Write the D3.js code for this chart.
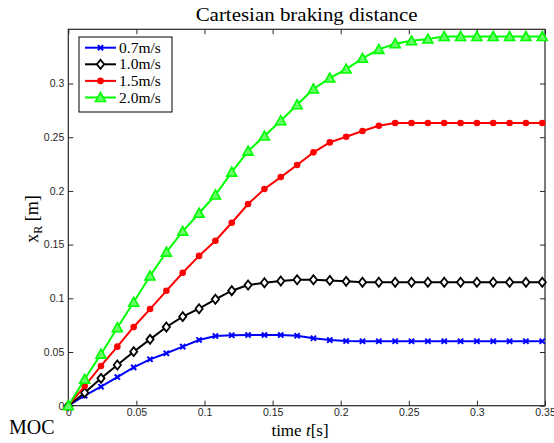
<!DOCTYPE html>
<html><head><meta charset="utf-8">
<script src="https://cdn.jsdelivr.net/npm/d3@7"></script>
<style>body{margin:0;background:#fff}svg{display:block}</style>
</head><body><div id="c"></div>
<script>
const times = d3.range(30).map(i => +(i * 0.012).toFixed(3));
const seriesNames = ["0.7m/s", "1.0m/s", "1.5m/s", "2.0m/s"];
const v07 = [0, 0.0093, 0.0177, 0.0267, 0.0357, 0.0432, 0.0488, 0.055, 0.0612, 0.0649, 0.0656, 0.0658, 0.0658, 0.0658, 0.0651, 0.0628, 0.0611, 0.0602, 0.060, 0.060, 0.060, 0.060, 0.060, 0.060, 0.060, 0.060, 0.060, 0.060, 0.060, 0.060];
const v10 = [0, 0.0121, 0.0255, 0.0379, 0.0503, 0.0618, 0.0733, 0.0829, 0.0903, 0.0991, 0.1071, 0.1124, 0.1145, 0.1161, 0.1173, 0.1173, 0.1167, 0.1158, 0.1150, 0.1149, 0.1149, 0.1149, 0.1149, 0.1149, 0.1149, 0.1149, 0.1149, 0.1149, 0.1149, 0.1149];
const v15 = [0, 0.0183, 0.037, 0.055, 0.0733, 0.090, 0.107, 0.1238, 0.1395, 0.1536, 0.1704, 0.1878, 0.2018, 0.2129, 0.2241, 0.2359, 0.2452, 0.2505, 0.2558, 0.2607, 0.2632, 0.2632, 0.2632, 0.2632, 0.2632, 0.2632, 0.2632, 0.2632, 0.2632, 0.2632];
const v20 = [0, 0.0246, 0.048, 0.0726, 0.0963, 0.1208, 0.143, 0.1624, 0.1792, 0.1962, 0.2175, 0.2371, 0.2511, 0.2654, 0.2803, 0.2949, 0.3051, 0.3135, 0.3235, 0.3318, 0.3371, 0.3398, 0.3414, 0.3438, 0.3438, 0.3438, 0.3438, 0.3438, 0.3438, 0.3438];
const xTicks = [0, 0.05, 0.1, 0.15, 0.2, 0.25, 0.3, 0.35];
const yTicks = [0, 0.05, 0.1, 0.15, 0.2, 0.25, 0.3];
const colors = ["#0000ff", "#000000", "#ff0000", "#00ff00"];
const markers = ["x", "diamond", "circle", "triangle"];
const allSeries = [v07, v10, v15, v20];

const W = 554, H = 443;
const L = 68.3, R = 545, T = 29.3, B = 405.7;
const svg = d3.select("#c").append("svg").attr("width", W).attr("height", H);
const x = d3.scaleLinear().domain([0, 0.35]).range([L, R]);
const y = d3.scaleLinear().domain([0, 0.3505]).range([B, T]);

const fmt = d => d === 0 ? "0" : String(d);
const tickFont = "Liberation Sans, Arial, sans-serif";
const serif = "Liberation Serif, Times New Roman, serif";

// axes
const gxB = svg.append("g").attr("transform", `translate(0,${B})`)
  .call(d3.axisBottom(x).tickValues(xTicks).tickFormat(fmt).tickSizeInner(-5).tickSizeOuter(0).tickPadding(3));
const gxT = svg.append("g").attr("transform", `translate(0,${T})`)
  .call(d3.axisTop(x).tickValues(xTicks).tickFormat("").tickSizeInner(-5).tickSizeOuter(0));
const gyL = svg.append("g").attr("transform", `translate(${L},0)`)
  .call(d3.axisLeft(y).tickValues(yTicks).tickFormat(fmt).tickSizeInner(-5).tickSizeOuter(0).tickPadding(4));
const gyR = svg.append("g").attr("transform", `translate(${R},0)`)
  .call(d3.axisRight(y).tickValues(yTicks).tickFormat("").tickSizeInner(-5).tickSizeOuter(0));
[gxB, gxT, gyL, gyR].forEach(g => {
  g.select(".domain").remove();
  g.selectAll("line").attr("stroke", "#262626").attr("stroke-width", 1);
  g.selectAll("text").attr("font-family", tickFont).attr("font-size", 10.5).attr("fill", "#262626");
});
svg.append("rect").attr("x", L).attr("y", T).attr("width", R - L).attr("height", B - T)
  .attr("fill", "none").attr("stroke", "#262626").attr("stroke-width", 1.2);

function drawMarker(g, type, color, cx, cy) {
  if (type === "x") {
    const s = 2.6;
    g.append("path").attr("d", `M${cx-s},${cy-s}L${cx+s},${cy+s}M${cx-s},${cy+s}L${cx+s},${cy-s}`)
      .attr("stroke", color).attr("stroke-width", 2);
  } else if (type === "diamond") {
    const s = 4.5;
    g.append("path").attr("d", `M${cx},${cy-s}L${cx+s*0.8},${cy}L${cx},${cy+s}L${cx-s*0.8},${cy}Z`)
      .attr("stroke", color).attr("stroke-width", 1.8).attr("fill", "#fff");
  } else if (type === "circle") {
    g.append("circle").attr("cx", cx).attr("cy", cy).attr("r", 3.3).attr("fill", color);
  } else {
    const s = 5;
    g.append("path").attr("d", `M${cx},${cy-s}L${cx+s},${cy+s*0.8}L${cx-s},${cy+s*0.8}Z`)
      .attr("stroke", color).attr("stroke-width", 1.6).attr("fill", "#66ff66");
  }
}

const line = d3.line().x((d, i) => x(times[i])).y(d => y(d));
const plot = svg.append("g");
allSeries.forEach((vals, k) => {
  const g = plot.append("g");
  g.append("path").attr("d", line(vals)).attr("fill", "none").attr("stroke", colors[k]).attr("stroke-width", 2);
  vals.forEach((v, i) => drawMarker(g, markers[k], colors[k], x(times[i]), y(v)));
});

// legend
const lg = svg.append("g");
lg.append("rect").attr("x", 79).attr("y", 37).attr("width", 93).attr("height", 75)
  .attr("fill", "#fff").attr("stroke", "#000").attr("stroke-width", 1);
seriesNames.forEach((n, k) => {
  const yy = 47.7 + k * 16.6;
  lg.append("line").attr("x1", 85).attr("x2", 116).attr("y1", yy).attr("y2", yy)
    .attr("stroke", colors[k]).attr("stroke-width", 2);
  drawMarker(lg, markers[k], colors[k], 100.5, yy);
  lg.append("text").attr("x", 119).attr("y", yy + 5).text(n)
    .attr("font-family", serif).attr("font-size", 15.5).attr("fill", "#000");
});

// title & labels
svg.append("text").attr("x", (L + R) / 2).attr("y", 21).attr("text-anchor", "middle")
  .attr("font-family", serif).attr("font-size", 18).attr("fill", "#000")
  .attr("textLength", 222).attr("lengthAdjust", "spacingAndGlyphs")
  .text("Cartesian braking distance");
const xl = svg.append("text").attr("x", 300).attr("y", 436).attr("text-anchor", "middle")
  .attr("font-family", serif).attr("font-size", 17).attr("fill", "#000");
xl.append("tspan").text("time ");
xl.append("tspan").attr("font-style", "italic").text("t");
xl.append("tspan").text("[s]");
const yl = svg.append("text").attr("transform", "translate(38,219) rotate(-90)").attr("text-anchor", "middle")
  .attr("font-family", serif).attr("font-size", 18).attr("fill", "#000");
yl.append("tspan").text("x");
yl.append("tspan").attr("font-size", 12).attr("dy", 4).text("R");
yl.append("tspan").attr("dy", -4).text(" [m]");
svg.append("text").attr("x", 9).attr("y", 434).attr("font-family", serif).attr("font-size", 20)
  .attr("fill", "#000").text("MOC");
</script></body></html>
